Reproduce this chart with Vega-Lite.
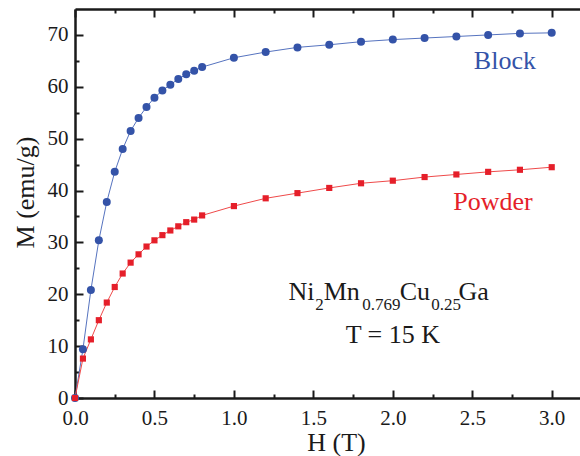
{
  "$schema": "https://vega.github.io/schema/vega-lite/v6.json",
  "width": 505,
  "height": 389,
  "autosize": {"type": "none"},
  "padding": {"left": 75, "top": 9, "right": 0, "bottom": 58},
  "background": "white",
  "config": {
    "view": {"stroke": null},
    "font": "Liberation Serif",
    "text": {"font": "Liberation Serif"},
    "axis": {
      "grid": false,
      "labelFont": "Liberation Serif",
      "titleFont": "Liberation Serif",
      "labelColor": "#1a1a1a",
      "titleColor": "#1a1a1a",
      "domainColor": "#1a1a1a",
      "tickColor": "#1a1a1a",
      "titleFontWeight": "normal",
      "labelFontSize": 21,
      "titleFontSize": 26,
      "domainWidth": 2.5,
      "tickWidth": 2,
      "labelFlush": false,
      "labelOverlap": false
    }
  },
  "datasets": {
    "m": [
      {"sample": "Block", "H": 0, "M": 0},
      {"sample": "Block", "H": 0.05, "M": 9.4},
      {"sample": "Block", "H": 0.1, "M": 20.8},
      {"sample": "Block", "H": 0.15, "M": 30.4},
      {"sample": "Block", "H": 0.2, "M": 37.8},
      {"sample": "Block", "H": 0.25, "M": 43.6},
      {"sample": "Block", "H": 0.3, "M": 48.0},
      {"sample": "Block", "H": 0.35, "M": 51.5},
      {"sample": "Block", "H": 0.4, "M": 54.0},
      {"sample": "Block", "H": 0.45, "M": 56.1},
      {"sample": "Block", "H": 0.5, "M": 57.9},
      {"sample": "Block", "H": 0.55, "M": 59.3},
      {"sample": "Block", "H": 0.6, "M": 60.4},
      {"sample": "Block", "H": 0.65, "M": 61.5},
      {"sample": "Block", "H": 0.7, "M": 62.4},
      {"sample": "Block", "H": 0.75, "M": 63.1},
      {"sample": "Block", "H": 0.8, "M": 63.8},
      {"sample": "Block", "H": 1.0, "M": 65.6},
      {"sample": "Block", "H": 1.2, "M": 66.7},
      {"sample": "Block", "H": 1.4, "M": 67.6},
      {"sample": "Block", "H": 1.6, "M": 68.1},
      {"sample": "Block", "H": 1.8, "M": 68.7},
      {"sample": "Block", "H": 2.0, "M": 69.1},
      {"sample": "Block", "H": 2.2, "M": 69.4},
      {"sample": "Block", "H": 2.4, "M": 69.7},
      {"sample": "Block", "H": 2.6, "M": 70.0},
      {"sample": "Block", "H": 2.8, "M": 70.3},
      {"sample": "Block", "H": 3.0, "M": 70.4},
      {"sample": "Powder", "H": 0, "M": 0},
      {"sample": "Powder", "H": 0.05, "M": 7.6},
      {"sample": "Powder", "H": 0.1, "M": 11.3},
      {"sample": "Powder", "H": 0.15, "M": 15.0},
      {"sample": "Powder", "H": 0.2, "M": 18.4},
      {"sample": "Powder", "H": 0.25, "M": 21.4},
      {"sample": "Powder", "H": 0.3, "M": 24.0},
      {"sample": "Powder", "H": 0.35, "M": 26.1},
      {"sample": "Powder", "H": 0.4, "M": 27.7},
      {"sample": "Powder", "H": 0.45, "M": 29.2},
      {"sample": "Powder", "H": 0.5, "M": 30.4},
      {"sample": "Powder", "H": 0.55, "M": 31.4},
      {"sample": "Powder", "H": 0.6, "M": 32.3},
      {"sample": "Powder", "H": 0.65, "M": 33.1},
      {"sample": "Powder", "H": 0.7, "M": 33.9},
      {"sample": "Powder", "H": 0.75, "M": 34.4},
      {"sample": "Powder", "H": 0.8, "M": 35.2},
      {"sample": "Powder", "H": 1.0, "M": 37.0},
      {"sample": "Powder", "H": 1.2, "M": 38.5},
      {"sample": "Powder", "H": 1.4, "M": 39.5},
      {"sample": "Powder", "H": 1.6, "M": 40.5},
      {"sample": "Powder", "H": 1.8, "M": 41.4},
      {"sample": "Powder", "H": 2.0, "M": 41.9},
      {"sample": "Powder", "H": 2.2, "M": 42.6},
      {"sample": "Powder", "H": 2.4, "M": 43.1},
      {"sample": "Powder", "H": 2.6, "M": 43.6},
      {"sample": "Powder", "H": 2.8, "M": 44.0},
      {"sample": "Powder", "H": 3.0, "M": 44.5}
    ],
    "labels": [
      {"H": 2.51, "M": 63.4, "text": "Block", "sample": "Block"},
      {"H": 2.38, "M": 36.2, "text": "Powder", "sample": "Powder"}
    ],
    "formula": [
      {"H": 1.344, "M": 18.9, "text": "Ni"},
      {"H": 1.565, "M": 18.9, "text": "Mn"},
      {"H": 2.043, "M": 18.9, "text": "Cu"},
      {"H": 2.414, "M": 18.9, "text": "Ga"}
    ],
    "subs": [
      {"H": 1.512, "M": 16.96, "text": "2"},
      {"H": 1.808, "M": 16.96, "text": "0.769"},
      {"H": 2.242, "M": 16.96, "text": "0.25"}
    ],
    "temp": [
      {"H": 2.0, "M": 10.6, "text": "T = 15 K"}
    ]
  },
  "layer": [
    {
      "data": {"name": "m"},
      "transform": [{"filter": "datum.sample === 'Block'"}],
      "mark": {"type": "line", "color": "#5673bf", "strokeWidth": 1},
      "encoding": {
        "x": {"field": "H", "type": "quantitative",
          "scale": {"domain": [0, 3.178], "nice": false, "zero": false},
          "axis": {"orient": "bottom", "values": [0, 0.5, 1, 1.5, 2, 2.5, 3], "format": ".1f",
            "labelFont": "Liberation Serif", "titleFont": "Liberation Serif",
            "tickSize": -8, "labelPadding": 17, "title": "H (T)", "titleX": 261, "titleY": 52,
            "titleBaseline": "alphabetic", "titleAnchor": null}},
        "y": {"field": "M", "type": "quantitative",
          "scale": {"domain": [0, 75], "nice": false, "zero": false},
          "axis": {"orient": "left", "values": [0, 10, 20, 30, 40, 50, 60, 70],
            "labelFont": "Liberation Serif", "titleFont": "Liberation Serif",
            "tickSize": -8, "labelPadding": 15, "title": "M (emu/g)", "titleX": -42, "titleY": 183,
            "titleBaseline": "alphabetic", "titleAngle": -90, "titleAlign": "center", "titleAnchor": null}}
      }
    },
    {
      "data": {"name": "m"},
      "transform": [{"filter": "datum.sample === 'Powder'"}],
      "mark": {"type": "line", "color": "#ef4a4a", "strokeWidth": 1},
      "encoding": {
        "x": {"field": "H", "type": "quantitative",
          "axis": {"orient": "bottom", "values": [0.25, 0.75, 1.25, 1.75, 2.25, 2.75],
            "tickSize": -4, "labels": false, "domain": false, "title": null}},
        "y": {"field": "M", "type": "quantitative",
          "axis": {"orient": "left", "values": [5, 15, 25, 35, 45, 55, 65],
            "tickSize": -4, "labels": false, "domain": false, "title": null}}
      }
    },
    {
      "data": {"name": "m"},
      "transform": [{"filter": "datum.sample === 'Block'"}],
      "mark": {"type": "point", "shape": "circle", "filled": true, "opacity": 1, "color": "#3453a8", "size": 64},
      "encoding": {
        "x": {"field": "H", "type": "quantitative",
          "axis": {"orient": "top", "values": [0, 0.5, 1, 1.5, 2, 2.5, 3],
            "tickSize": -8, "labels": false, "title": null}},
        "y": {"field": "M", "type": "quantitative", "axis": null}
      }
    },
    {
      "data": {"name": "m"},
      "transform": [{"filter": "datum.sample === 'Powder'"}],
      "mark": {"type": "point", "shape": "square", "filled": true, "opacity": 1, "color": "#e51f2a", "size": 38},
      "encoding": {
        "x": {"field": "H", "type": "quantitative",
          "axis": {"orient": "top", "values": [0.25, 0.75, 1.25, 1.75, 2.25, 2.75],
            "tickSize": -4, "labels": false, "domain": false, "title": null}},
        "y": {"field": "M", "type": "quantitative", "axis": null}
      }
    },
    {
      "data": {"name": "labels"},
      "mark": {"type": "text", "fontSize": 26, "align": "left", "baseline": "alphabetic", "font": "Liberation Serif"},
      "encoding": {
        "x": {"field": "H", "type": "quantitative", "axis": null},
        "y": {"field": "M", "type": "quantitative", "axis": null},
        "text": {"field": "text"},
        "color": {"field": "sample", "type": "nominal",
          "scale": {"domain": ["Block", "Powder"], "range": ["#3453a8", "#e51f2a"]}, "legend": null}
      }
    },
    {
      "data": {"name": "formula"},
      "mark": {"type": "text", "fontSize": 26, "align": "left", "baseline": "alphabetic", "font": "Liberation Serif", "color": "#1a1a1a"},
      "encoding": {
        "x": {"field": "H", "type": "quantitative", "axis": null},
        "y": {"field": "M", "type": "quantitative", "axis": null},
        "text": {"field": "text"}
      }
    },
    {
      "data": {"name": "subs"},
      "mark": {"type": "text", "fontSize": 17, "align": "left", "baseline": "alphabetic", "font": "Liberation Serif", "color": "#1a1a1a"},
      "encoding": {
        "x": {"field": "H", "type": "quantitative", "axis": null},
        "y": {"field": "M", "type": "quantitative", "axis": null},
        "text": {"field": "text"}
      }
    },
    {
      "data": {"name": "temp"},
      "mark": {"type": "text", "fontSize": 26, "align": "center", "baseline": "alphabetic", "font": "Liberation Serif", "color": "#1a1a1a"},
      "encoding": {
        "x": {"field": "H", "type": "quantitative", "axis": null},
        "y": {"field": "M", "type": "quantitative", "axis": null},
        "text": {"field": "text"}
      }
    }
  ],
  "resolve": {"axis": {"x": "independent", "y": "independent"}}
}
